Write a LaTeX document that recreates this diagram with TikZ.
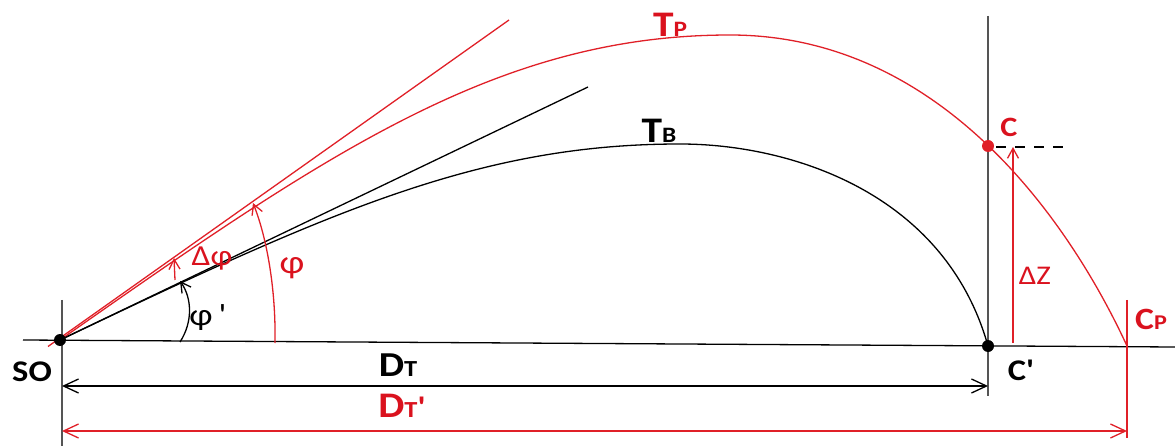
\documentclass[tikz,border=0pt]{standalone}
\usepackage{fontspec}
\setmainfont{Carlito}[Ligatures=TeXOff]
\usetikzlibrary{arrows.meta}
\definecolor{rd}{RGB}{224,32,40}
\definecolor{rdt}{RGB}{218,18,30}
\definecolor{gr}{RGB}{85,85,85}
\newcommand{\fsz}[1]{\fontsize{#1}{#1}\selectfont}
\newcommand{\widen}[1]{\scalebox{1.15}[1]{#1}}
\tikzset{
  ln/.style={line width=1.3pt},
  dot/.style={circle, inner sep=0pt, minimum size=12pt},
  lab/.style={inner sep=0pt, font=\bfseries\fsz{30}},
  dimarrow/.style={ln, {Straight Barb[length=15pt,width=14pt]}-{Straight Barb[length=15pt,width=14pt]}},
  arcarrow/.style={ln, -{Straight Barb[length=10pt,width=11pt]}},
}
\begin{document}
\begin{tikzpicture}[x=1pt,y=-1pt]
\useasboundingbox (0,0) rectangle (1175,446);
% key points
\coordinate (gL) at (23,340);
\coordinate (gR) at (1175,347);
\coordinate (vSOt) at (62,300);
\coordinate (vSOb) at (62,446);
\coordinate (vCt) at (988,16);
\coordinate (vCb) at (988,396);
\coordinate (vPt) at (1127,300);
\coordinate (vPb) at (1127,438);
\coordinate (CP) at (1127,346);
\coordinate (pk) at (730,35);
\coordinate (pkB) at (680,144);
% reference lines
\draw[ln] (gL) -- (gR);
\draw[ln, gr] (vSOt) -- (vSOb);
\draw[ln, gr] (vCt) -- (vCb);
\draw[ln, rd] (vPt) -- (vPb);
% tangents
\coordinate (tRa) at (48,346.5);
\coordinate (tRb) at (509,20);
\coordinate (tBb) at (588,87);
\draw[ln, rd] (tRa) -- (tRb);
\draw[ln] (60,340) -- (tBb);
% trajectories
\draw[ln, rd] (60,340) .. controls (330,150.6) and (500,35) .. (pk)
  .. controls (945,35) and (1072.4,227.7) .. (CP);
\draw[ln] (60,340) .. controls (331,210.7) and (480,144) .. (pkB)
  .. controls (790,144) and (944.8,192.4) .. (988,346);
% dots
\node[dot, fill=black] (SO) at (60,340) {};
\node[dot, fill=black] (Cq) at (988,346) {};
\node[dot, fill=rd] (C) at (988,146) {};
% dimension arrows
\coordinate (dTa) at (62,386);
\coordinate (dTb) at (988,386);
\coordinate (dPa) at (62,431);
\coordinate (dPb) at (1127,431);
\draw[dimarrow] (dTa) -- (dTb);
\draw[dimarrow, rd] (dPa) -- (dPb);
% delta Z
\coordinate (zA) at (1013,343);
\coordinate (zB) at (1013,147);
\coordinate (dashS) at (996,147);
\coordinate (dashE) at (1065,147);
\draw[arcarrow, rd] (zA) -- (zB);
\draw[ln, dash pattern=on 10pt off 9pt] (dashS) -- (dashE);
% angle arcs
\coordinate (aPa) at (275,343);
\coordinate (aPb) at (253,203);
\draw[arcarrow, rd] (aPa) .. controls (276,290) and (267,238) .. (aPb);
\coordinate (aQa) at (180,342);
\coordinate (aQb) at (180,281);
\draw[arcarrow] (aQa) .. controls (193,322) and (192,298) .. (aQb);
\coordinate (aDa) at (175,280);
\coordinate (aDb) at (174,258);
\draw[arcarrow, rd] (aDa) -- (aDb);
% labels
\node[lab] (lSO) at (32,372) {\widen{SO}};
\node[lab, anchor=base] (lDT) at (398,376) {\widen{{\fsz{35}D}{\fsz{23}T}}};
\node[lab, anchor=base, text=rdt] (lDP) at (402,417) {\widen{{\fsz{36}D}{\fsz{23}T}'}};
\node[lab, anchor=base, text=rdt] (lTP) at (670,37) {\widen{{\fsz{36}T}{\fsz{22}P}}};
\node[lab, anchor=base] (lTB) at (659,143) {\widen{{\fsz{36}T}{\fsz{22}B}}};
\node[lab, anchor=base, text=rdt] (lC) at (1009,137) {\widen{\fsz{28}C}};
\node[lab, anchor=base] (lCq) at (1021,380) {\widen{C'}};
\node[lab, anchor=base, text=rdt] (lCP) at (1151,330) {\widen{{\fsz{31}C}{\fsz{21}P}}};
\node[inner sep=0pt, anchor=base, text=rdt, font=\fsz{27}] (lZ) at (1035,284) {\widen{ΔZ}};
\node[inner sep=0pt, text=rdt, font=\fsz{33}] (lphi) at (292,268) {\widen{φ}};
\node[inner sep=0pt, font=\fsz{31}] (lphq) at (208,318) {\widen{φ\,'}};
\node[inner sep=0pt, text=rdt, font=\fsz{29}] (ldphi) at (212,259) {\widen{Δφ}};
\end{tikzpicture}
\end{document}
